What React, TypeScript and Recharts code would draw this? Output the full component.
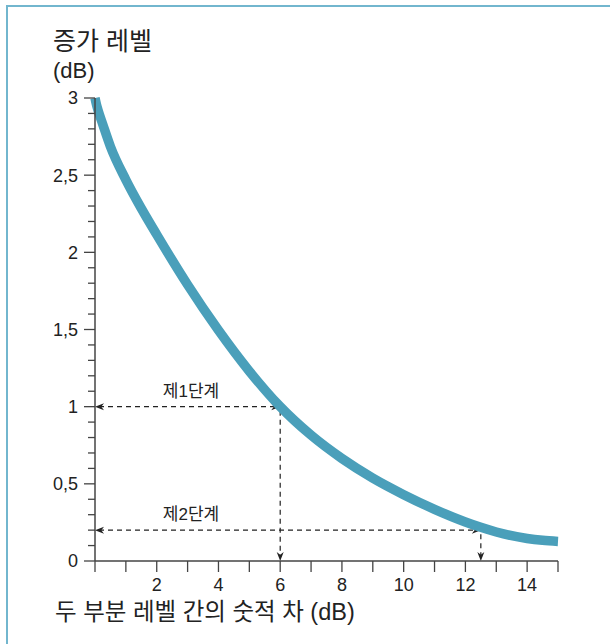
import { Line, LineChart, ReferenceLine, XAxis, YAxis } from "recharts";

// level difference between two parts (dB) and the resulting level increase (dB)
const levelDiff = [0, 0.05, 0.1, 0.25, 0.5, 1, 1.5, 2, 3, 4, 5, 6, 7, 8, 9, 10, 11, 12, 12.5, 13, 14, 14.5, 15];
const levelGain = [
  3.0, 2.955, 2.92, 2.83, 2.685, 2.47, 2.285, 2.115, 1.79, 1.495, 1.23, 1.0, 0.815, 0.664, 0.537, 0.43, 0.335,
  0.253, 0.218, 0.188, 0.146, 0.134, 0.127,
];

const xTicks = [0, 1, 2, 3, 4, 5, 6, 7, 8, 9, 10, 11, 12, 13, 14, 15];
const xTickLabels = [2, 4, 6, 8, 10, 12, 14];
const yTicks = [
  0, 0.1, 0.2, 0.3, 0.4, 0.5, 0.6, 0.7, 0.8, 0.9, 1, 1.1, 1.2, 1.3, 1.4, 1.5, 1.6, 1.7, 1.8, 1.9, 2, 2.1, 2.2,
  2.3, 2.4, 2.5, 2.6, 2.7, 2.8, 2.9, 3,
];
const yTickLabels = [0, 0.5, 1, 1.5, 2, 2.5, 3];

const stepNames = ["제1단계", "제2단계"];
const stepDiff = [6, 12.5];
const stepGain = [1, 0.2];

const data = levelDiff.map((d, i) => ({ d, g: levelGain[i] }));

const FONT = '"Liberation Sans", Arial, "Noto Sans CJK KR", sans-serif';
const INK = "#222";
const CURVE = "#4a9fba";

const near = (list: number[], v: number) => list.some((l) => Math.abs(l - v) < 1e-6);

function YTick({ x, y, payload }: any) {
  const v = payload.value;
  const major = near(yTickLabels, v);
  return (
    <g>
      <line x1={x - (major ? 11 : 7)} x2={x} y1={y} y2={y} stroke="#444" strokeWidth={1.3} />
      {major && (
        <text x={x - 17} y={y} dy="0.36em" textAnchor="end" fontSize={18} fill={INK} fontFamily={FONT}>
          {String(v).replace(".", ",")}
        </text>
      )}
    </g>
  );
}

function XTick({ x, y, payload }: any) {
  const v = payload.value;
  return (
    <g>
      <line x1={x} x2={x} y1={y} y2={y + 11} stroke="#444" strokeWidth={1.3} />
      {near(xTickLabels, v) && (
        <text x={x} y={y + 24} dy="0.36em" textAnchor="middle" fontSize={18} fill={INK} fontFamily={FONT}>
          {v}
        </text>
      )}
    </g>
  );
}

function arrowHead(tx: number, ty: number, dx: number, dy: number) {
  // stealth-style head pointing along (dx, dy)
  const len = 9;
  const half = 3.5;
  const bx = tx - dx * len;
  const by = ty - dy * len;
  const nx = -dy;
  const ny = dx;
  const kx = tx - dx * len * 0.7;
  const ky = ty - dy * len * 0.7;
  return `M${tx},${ty} L${bx + nx * half},${by + ny * half} L${kx},${ky} L${bx - nx * half},${by - ny * half} Z`;
}

function HArrow(label: string) {
  return (props: any) => {
    const { x1, y1, x2 } = props;
    return (
      <g>
        <line x1={x1 + 4} x2={x2 - 4} y1={y1} y2={y1} stroke={INK} strokeWidth={1.2} strokeDasharray="5 4" />
        <path d={arrowHead(x1, y1, -1, 0)} fill={INK} />
        <path d={arrowHead(x2, y1, 1, 0)} fill={INK} />
        <text x={x1 + 96} y={y1 - 10} textAnchor="middle" fontSize={17} fill={INK} fontFamily={FONT}>
          {label}
        </text>
      </g>
    );
  };
}

function VArrow(props: any) {
  const { x1, y1, y2 } = props;
  const top = Math.min(y1, y2);
  const bottom = Math.max(y1, y2);
  return (
    <g>
      <line x1={x1} x2={x1} y1={top + 4} y2={bottom - 4} stroke={INK} strokeWidth={1.2} strokeDasharray="5 4" />
      <path d={arrowHead(x1, bottom, 0, 1)} fill={INK} />
    </g>
  );
}

export default function App() {
  return (
    <div style={{ position: "absolute", left: 0, top: 0, width: 610, height: 644, background: "#fff", overflow: "hidden" }}>
      <div
        style={{
          position: "absolute",
          left: 6,
          top: 5,
          width: 610,
          height: 650,
          borderTop: "2px solid #72b6ce",
          borderLeft: "2px solid #72b6ce",
        }}
      />
      <div style={{ position: "absolute", left: 0, top: 0 }}>
        <LineChart width={610} height={644} data={data} margin={{ top: 98, right: 52, bottom: 53, left: 35 }}>
          <XAxis
            dataKey="d"
            type="number"
            domain={[0, 15]}
            ticks={xTicks}
            interval={0}
            height={30}
            tickSize={0}
            tickMargin={0}
            tickLine={false}
            axisLine={{ stroke: "#444", strokeWidth: 1.5 }}
            tick={<XTick />}
          />
          <YAxis
            type="number"
            domain={[0, 3]}
            ticks={yTicks}
            interval={0}
            width={60}
            tickSize={0}
            tickMargin={0}
            tickLine={false}
            axisLine={{ stroke: "#444", strokeWidth: 1.5 }}
            tick={<YTick />}
          />
          {stepNames.map((name, i) => (
            <ReferenceLine
              key={"h" + i}
              segment={[
                { x: 0, y: stepGain[i] },
                { x: stepDiff[i], y: stepGain[i] },
              ]}
              shape={HArrow(name)}
            />
          ))}
          {stepNames.map((name, i) => (
            <ReferenceLine
              key={"v" + i}
              segment={[
                { x: stepDiff[i], y: stepGain[i] },
                { x: stepDiff[i], y: 0 },
              ]}
              shape={VArrow}
            />
          ))}
          <Line
            type="monotone"
            dataKey="g"
            stroke={CURVE}
            strokeWidth={9.5}
            dot={false}
            activeDot={false}
            isAnimationActive={false}
          />
        </LineChart>
      </div>
      <svg width={610} height={644} style={{ position: "absolute", left: 0, top: 0, pointerEvents: "none" }}>
        <text x={53} y={50} fontSize={25} fill={INK} fontFamily={FONT}>
          증가 레벨
        </text>
        <text x={53} y={78} fontSize={22} fill={INK} fontFamily={FONT}>
          (dB)
        </text>
        <text x={55} y={620} fontSize={23.5} fill={INK} fontFamily={FONT}>
          두 부분 레벨 간의 숫적 차 (dB)
        </text>
      </svg>
    </div>
  );
}
